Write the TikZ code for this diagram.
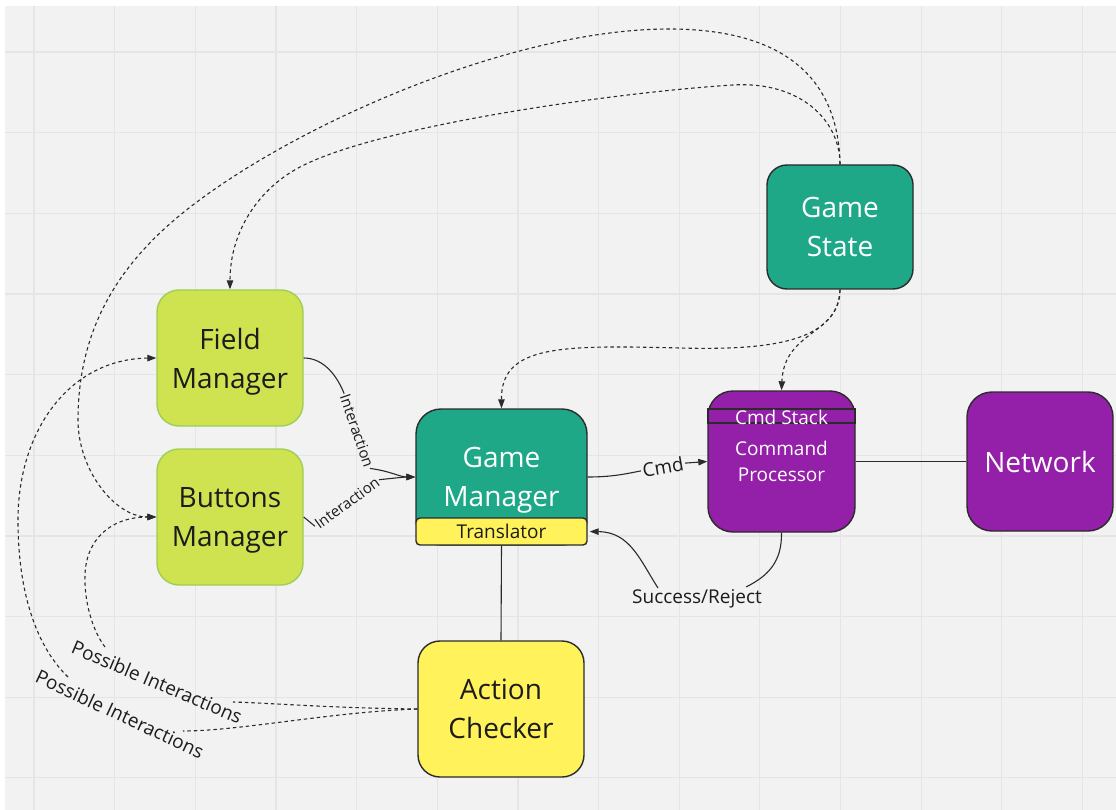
\documentclass[tikz,border=0pt]{standalone}
\usepackage{fontspec}
\setmainfont{Open Sans}
\usetikzlibrary{arrows.meta}

\definecolor{canvas}{HTML}{F2F2F2}
\definecolor{gridc}{HTML}{E5E5E5}
\definecolor{tealc}{HTML}{1FA888}
\definecolor{purplec}{HTML}{941FA8}
\definecolor{limec}{HTML}{CFE24F}
\definecolor{limeedge}{HTML}{9CCF55}
\definecolor{yellowc}{HTML}{FFF25A}
\definecolor{inkc}{HTML}{2B2B2B}
\definecolor{textdark}{HTML}{1C1C1C}

\tikzset{
  gridline/.style={draw=gridc, line width=1.2pt},
  nodebase/.style={rectangle, inner sep=0pt, align=center, text depth=0pt,
    font=\fontsize{28}{39}\selectfont, line width=1.4pt},
  tealbox/.style={nodebase, fill=tealc, draw=inkc, text=white},
  purplebox/.style={nodebase, fill=purplec, draw=inkc, text=white},
  limebox/.style={nodebase, fill=limec, draw=limeedge, text=textdark,
    rounded corners=22pt, minimum width=146pt, minimum height=136pt},
  yellowbox/.style={nodebase, fill=yellowc, draw=inkc, text=textdark},
  lbl/.style={inner sep=1.5pt, text=textdark, font=\fontsize{19}{23}\selectfont},
  smalllbl/.style={lbl, font=\fontsize{15}{18}\selectfont},
  conn/.style={draw=inkc, line width=1.1pt},
  dconn/.style={conn, dash pattern=on 3.5pt off 3pt},
  arr/.style={-{Triangle[length=9pt,width=6.5pt]}}
}

\begin{document}
\begin{tikzpicture}[x=1pt, y=-1pt]
\useasboundingbox (0,0) rectangle (1116,810);
\fill[white] (0,0) rectangle (1116,810);
\fill[canvas] (5,6) rectangle (1116,810);
\foreach \gx in {0,...,13} \draw[gridline] ({34+80.65*\gx},6) -- ({34+80.65*\gx},810);
\foreach \gy in {0,...,9} \draw[gridline] (5,{52+80.65*\gy}) -- (1116,{52+80.65*\gy});

% components
\node[tealbox, rounded corners=20pt, minimum width=146pt, minimum height=124pt] (gs) at (840,227) {Game\\State};
\node[limebox] (fm) at (230,358) {Field\\Manager};
\node[limebox] (bm) at (230,517) {Buttons\\Manager};
\node[tealbox, rounded corners=25pt, minimum width=171pt, minimum height=136pt] (gm) at (501.5,477) {Game\\Manager};
\node[yellowbox, rounded corners=4pt, minimum width=171pt, minimum height=27pt,
      font=\fontsize{19}{23}\selectfont] (tr) at (501.5,531.5) {Translator};
\node[purplebox, rounded corners=25pt, minimum width=147pt, minimum height=141pt,
      font=\fontsize{19}{26}\selectfont] (cp) at (781.5,461.5) {Command\\Processor};
\node[purplebox, minimum width=147pt, minimum height=14pt] (stack) at (781.5,416) {};
\node[text=white, inner sep=0pt, font=\fontsize{19}{23}\selectfont] (stacktext) at (781.5,417) {Cmd Stack};
\node[purplebox, rounded corners=25pt, minimum width=146pt, minimum height=139pt] (nw) at (1040,461.5) {Network};
\node[yellowbox, rounded corners=22pt, minimum width=166pt, minimum height=136pt] (ac) at (501,709) {Action\\Checker};

% connector labels
\node[smalllbl, rotate=-71] (int1) at (357,431) {Interaction};
\node[smalllbl, rotate=36] (int2) at (347,503) {Interaction};
\node[lbl, rotate=10] (cmdl) at (663,467) {Cmd};
\node[lbl] (succ) at (697,599) {Success/Reject};
\node[lbl, rotate=-23] (poss1) at (157,682) {Possible Interactions};
\node[lbl, rotate=-25] (poss2) at (120,714) {Possible Interactions};

% solid connectors
\draw[conn] (fm.east) .. controls (325,358) and (338,378) .. (int1.west);
\draw[conn,arr] (int1.east) .. controls (390,471) and (400,477) .. (gm.west);
\draw[conn] (bm.east) -- (int2.west);
\draw[conn,arr] (int2.east) .. controls (395,478) and (405,477) .. (gm.west);
\draw[conn] (gm.east) .. controls (612,477) and (625,474) .. (cmdl.west);
\draw[conn,arr] (cmdl.east) -- (cp.west);
\draw[conn] (tr.south) -- (ac.north);
\draw[conn] (cp.east) -- (nw.west);
\coordinate (sr1) at (746,587);
\coordinate (sr2) at (658,588);
\draw[conn] (cp.south) .. controls (782,562) and (768,576) .. (sr1);
\draw[conn,arr,shorten >=2pt] (sr2) .. controls (640,560) and (630,532) .. (tr.east);

% game state links
\draw[dconn,arr] (gs.north) .. controls (840,120) and (800,81) .. (733,85)
  .. controls (620,92) and (380,125) .. (300,167)
  .. controls (260,188) and (230,230) .. (fm.north);
\draw[dconn,arr] (gs.north) .. controls (838,60) and (760,29) .. (669,29)
  .. controls (500,29) and (260,140) .. (163,230)
  .. controls (118,272) and (78,330) .. (78,420)
  .. controls (78,470) and (115,517) .. (bm.west);
\draw[dconn,arr] (gs.south) .. controls (838,345) and (760,350) .. (680,348)
  .. controls (560,345) and (501,345) .. (gm.north);
\draw[dconn,arr] (gs.south) .. controls (840,335) and (784,330) .. (cp.north);

% possible interactions
\coordinate (pa1) at (233,702);
\coordinate (pb1) at (105,647);
\coordinate (pa2) at (183,731);
\coordinate (pb2) at (68,677);
\draw[dconn] (ac.west) .. controls (330,708) and (270,703) .. (pa1);
\draw[dconn,arr] (pb1) .. controls (92,630) and (84,600) .. (85,575)
  .. controls (86,540) and (110,517) .. (bm.west);
\draw[dconn] (ac.west) .. controls (330,712) and (240,731) .. (pa2);
\draw[dconn,arr] (pb2) .. controls (40,650) and (18,600) .. (18,520)
  .. controls (18,430) and (70,359) .. (fm.west);
\end{tikzpicture}
\end{document}
